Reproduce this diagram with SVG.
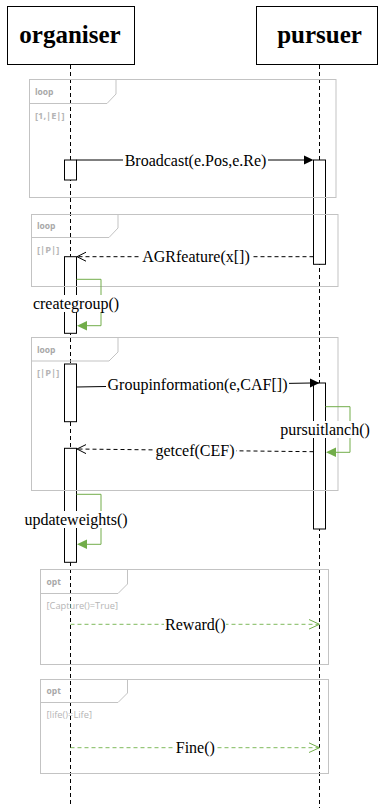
<svg xmlns="http://www.w3.org/2000/svg" width="380" height="808" viewBox="0 0 380 808">
<style>
.hdr{fill:#fff;stroke:#000;stroke-width:1}
.hdrt{font-family:"Liberation Serif",serif;font-weight:bold;font-size:25px;fill:#000;text-anchor:middle}
.life{stroke:#000;stroke-width:1;stroke-dasharray:4 3;fill:none}
.act{fill:#fff;stroke:#000;stroke-width:1}
.frame{fill:none;stroke:#c3c3c3;stroke-width:1}
.ftag{font-family:"Open Sans","Liberation Sans",sans-serif;font-weight:bold;font-size:8.5px;fill:#a8a8a8}
.guard{font-family:"Open Sans","Liberation Sans",sans-serif;font-size:9.3px;fill:#b5b5b5}
.msg{stroke:#000;stroke-width:1;fill:none}
.ret{stroke:#000;stroke-width:1;fill:none;stroke-dasharray:4 3}
.self{stroke:#72ad4a;stroke-width:1;fill:none}
.gdash{stroke:#7fba5c;stroke-width:1;fill:none;stroke-dasharray:4 3}
.lbl{font-family:"Liberation Serif",serif;font-size:16px;fill:#000;text-anchor:middle}
.bg{fill:#fff}
</style>
<g id="organiser">
<rect class="hdr" x="7.5" y="6.5" width="127" height="58"/>
<text class="hdrt" x="70" y="43">organiser</text>
<line class="life" x1="70.5" y1="65" x2="70.5" y2="806"/>
<rect class="act" x="64.5" y="160" width="12" height="20"/>
<rect class="act" x="64.5" y="256.7" width="12" height="76.6"/>
<rect class="act" x="64.5" y="364" width="12" height="57.7"/>
<rect class="act" x="64.5" y="448.3" width="12" height="114"/>
</g>
<g id="pursuer">
<rect class="hdr" x="256.5" y="6.5" width="121" height="58"/>
<text class="hdrt" x="319.5" y="43">pursuer</text>
<line class="life" x1="319.5" y1="65" x2="319.5" y2="808"/>
<rect class="act" x="313.5" y="160" width="12" height="104.3"/>
<rect class="act" x="313.5" y="383" width="12" height="146"/>
</g>
<g id="loop1">
<rect class="frame" x="29.5" y="79.5" width="306.5" height="118"/>
<path class="frame" d="M29.5 103.5 H107 L116 94 V79.5"/>
<text class="ftag" x="35" y="94.5">loop</text>
<text class="guard" x="35" y="118.5" font-weight="bold">[1,|E|]</text>
</g>
<g id="loop2">
<rect class="frame" x="31.5" y="214.5" width="306.5" height="72"/>
<path class="frame" d="M31.5 237.5 H109 L118 228 V214.5"/>
<text class="ftag" x="37" y="229">loop</text>
<text class="guard" x="37" y="253" font-weight="bold">[|P|]</text>
</g>
<g id="loop3">
<rect class="frame" x="31.5" y="337.5" width="306.5" height="153"/>
<path class="frame" d="M31.5 361 H109 L118 352 V337.5"/>
<text class="ftag" x="37" y="353">loop</text>
<text class="guard" x="37" y="376" font-weight="bold">[|P|]</text>
</g>
<g id="opt1">
<rect class="frame" x="40.5" y="569.5" width="288" height="95"/>
<path class="frame" d="M40.5 593.5 H118 L127.5 584 V569.5"/>
<text class="ftag" x="46.5" y="584.5">opt</text>
<text class="guard" x="46.5" y="609">[Capture()=True]</text>
</g>
<g id="opt2">
<rect class="frame" x="40.5" y="679.5" width="288" height="94"/>
<path class="frame" d="M40.5 702.5 H118 L127.5 693 V679.5"/>
<text class="ftag" x="46.5" y="693.5">opt</text>
<text class="guard" x="46.5" y="717.5">[life()=Life]</text>
</g>
<g id="connectors">
<line class="msg" x1="76.5" y1="160" x2="305" y2="160"/>
<polygon points="304,155.5 313.5,160 304,164.5" fill="#000"/>
<line class="ret" x1="313.5" y1="256.7" x2="77" y2="256.7"/>
<polyline class="msg" points="86,252.2 77,256.7 86,261.2"/>
<path class="self" d="M76.5 279.3 H101 V325.7 H86"/>
<polygon points="87,321 77,325.7 87,330.4" fill="#72ad4a"/>
<line class="msg" x1="76.5" y1="387" x2="311" y2="383"/>
<polygon points="310,378.6 319.5,383 310,387.6" fill="#000"/>
<path class="self" d="M325.5 406.7 H350 V452.3 H335"/>
<polygon points="336,447.6 326,452.3 336,457" fill="#72ad4a"/>
<line class="ret" x1="313.5" y1="451.7" x2="77" y2="449"/>
<polyline class="msg" points="86,444.6 77,449 86,453.6"/>
<path class="self" d="M76.5 494.3 H101 V544.3 H86"/>
<polygon points="87,539.6 77,544.3 87,549" fill="#72ad4a"/>
<line class="gdash" x1="70.5" y1="624.3" x2="319" y2="624.3"/>
<polyline class="self" points="309,619.5 319.5,624.3 309,629.1" stroke="#7fba5c"/>
<line class="gdash" x1="70.5" y1="747.7" x2="319" y2="747.7"/>
<polyline class="self" points="309,742.9 319.5,747.7 309,752.5" stroke="#7fba5c"/>
</g>
<g id="labels">
<rect class="bg" x="123" y="152" width="145" height="17"/>
<text class="lbl" x="195.5" y="165.5">Broadcast(e.Pos,e.Re)</text>
<rect class="bg" x="141" y="248" width="110" height="17"/>
<text class="lbl" x="196" y="262">AGRfeature(x[])</text>
<rect class="bg" x="32" y="295" width="88" height="17"/>
<text class="lbl" x="76" y="308.5">creategroup()</text>
<rect class="bg" x="106" y="376" width="183" height="17"/>
<text class="lbl" x="197.5" y="390">Groupinformation(e,CAF[])</text>
<rect class="bg" x="279" y="421" width="92" height="17"/>
<text class="lbl" x="325" y="434.5">pursuitlanch()</text>
<rect class="bg" x="154" y="442" width="82" height="17"/>
<text class="lbl" x="195" y="455.5">getcef(CEF)</text>
<rect class="bg" x="24" y="511" width="104" height="17"/>
<text class="lbl" x="76" y="524.5">updateweights()</text>
<rect class="bg" x="164" y="616" width="62" height="17"/>
<text class="lbl" x="195.3" y="629.5">Reward()</text>
<rect class="bg" x="175" y="739" width="41" height="17"/>
<text class="lbl" x="195.3" y="753">Fine()</text>
</g>
</svg>
